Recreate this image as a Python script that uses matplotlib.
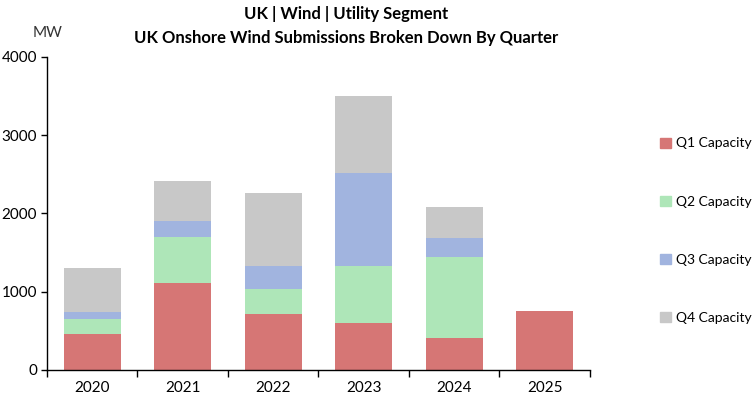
import numpy as np
import matplotlib.pyplot as plt
from matplotlib.patches import Patch

plt.rcParams['font.family'] = ['Lato', 'DejaVu Sans']

# Data (MW)
years = ['2020', '2021', '2022', '2023', '2024', '2025']
q1 = [460, 1110, 715, 600, 413, 757]
q2 = [190, 588, 319, 732, 1030, 0]
q3 = [90, 204, 294, 1184, 243, 0]
q4 = [562, 511, 932, 987, 396, 0]

series = ['Q1 Capacity', 'Q2 Capacity', 'Q3 Capacity', 'Q4 Capacity']
colors = ['#D67675', '#AEE6B8', '#A1B4DF', '#C8C8C8']

fig = plt.figure(figsize=(7.53, 3.98), dpi=100)
ax = fig.add_axes([0.0624, 0.0704, 0.7211, 0.7866])

x = np.arange(len(years))
bottom = np.zeros(len(years))
for vals, col in zip([q1, q2, q3, q4], colors):
    ax.bar(x, vals, width=0.63, bottom=bottom, color=col, zorder=2)
    bottom += np.array(vals)

ax.set_xlim(-0.5, len(years) - 0.5)
ax.set_ylim(0, 4000)
ax.set_yticks([0, 1000, 2000, 3000, 4000])
ax.tick_params(axis='y', labelsize=11, length=4, width=1, pad=3)
ax.set_xticks(x)
ax.set_xticklabels(years, fontsize=11)
ax.tick_params(axis='x', length=0, pad=8)
# category boundary ticks
ax.set_xticks(np.arange(-0.5, len(years)), minor=True)
ax.tick_params(axis='x', which='minor', length=5, width=1)

for s in ['top', 'right']:
    ax.spines[s].set_visible(False)
ax.spines['left'].set_linewidth(1)
ax.spines['bottom'].set_linewidth(1)

fig.text(0.459, 0.965, 'UK | Wind | Utility Segment', ha='center', va='center',
         fontsize=12, fontweight='bold')
fig.text(0.459, 0.905, 'UK Onshore Wind Submissions Broken Down By Quarter',
         ha='center', va='center', fontsize=12, fontweight='bold')
fig.text(0.063, 0.917, 'MW', ha='center', va='center', fontsize=11, color='#333333')

handles = [Patch(color=c) for c in colors]
fig.legend(handles, series, loc='center left', bbox_to_anchor=(0.877, 0.42),
           frameon=False, fontsize=10, labelspacing=3.33, handlelength=0.75,
           handleheight=0.75, handletextpad=0.4, borderpad=0, borderaxespad=0)

fig.savefig('out.png', dpi=100)
